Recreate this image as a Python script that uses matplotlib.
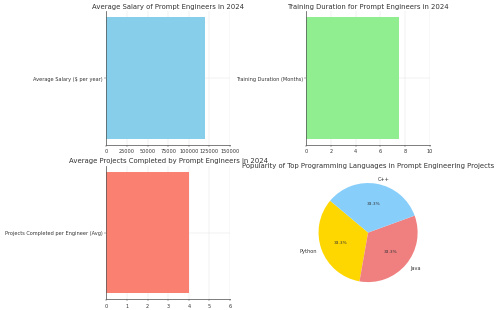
import matplotlib
matplotlib.use("Agg")
import matplotlib.pyplot as plt

salary_label = ['Average Salary ($ per year)']
salary = [120000]
salary_ticks = [0, 25000, 50000, 75000, 100000, 125000, 150000]
training_label = ['Training Duration (Months)']
training = [7.5]
projects_label = ['Projects Completed per Engineer (Avg)']
projects = [4]
languages = ['Python', 'Java', 'C++']
popularity = [1, 1, 1]
pie_colors = ['gold', 'lightcoral', 'lightskyblue']

plt.rcParams['text.color'] = '#333333'
plt.rcParams['axes.labelcolor'] = '#333333'
plt.rcParams['xtick.color'] = '#333333'
plt.rcParams['ytick.color'] = '#333333'


def style(ax):
    ax.grid(True, color='#e6e6e6', linewidth=1)
    ax.set_axisbelow(True)
    for s in ['top', 'right']:
        ax.spines[s].set_visible(False)
    for s in ['left', 'bottom']:
        ax.spines[s].set_color('#555555')
        ax.spines[s].set_linewidth(1.5)
    ax.tick_params(labelsize=10)


fig, axs = plt.subplots(2, 2, figsize=(14, 8.7))
fig.subplots_adjust(left=0.2126, right=0.86, wspace=0.614,
                    top=0.9614, bottom=0.0338, hspace=0.153)

ax = axs[0, 0]
ax.barh(salary_label, salary, color='skyblue')
ax.set_xlim(0, 150000)
ax.set_xticks(salary_ticks)
ax.set_title('Average Salary of Prompt Engineers in 2024', fontsize=14)
style(ax)

ax = axs[0, 1]
ax.barh(training_label, training, color='lightgreen')
ax.set_xlim(0, 10)
ax.set_title('Training Duration for Prompt Engineers in 2024', fontsize=14)
style(ax)

ax = axs[1, 0]
ax.barh(projects_label, projects, color='salmon')
ax.set_xlim(0, 6)
ax.set_title('Average Projects Completed by Prompt Engineers in 2024', fontsize=14)
style(ax)

ax = axs[1, 1]
wedges, texts, autotexts = ax.pie(popularity, labels=languages, colors=pie_colors,
                                  autopct='%1.1f%%', startangle=140,
                                  textprops={'fontsize': 10})
for t in autotexts:
    t.set_fontsize(8.5)
ax.set_title('Popularity of Top Programming Languages in Prompt Engineering Projects', fontsize=14)

plt.savefig('out.png', dpi=500 / 14)
